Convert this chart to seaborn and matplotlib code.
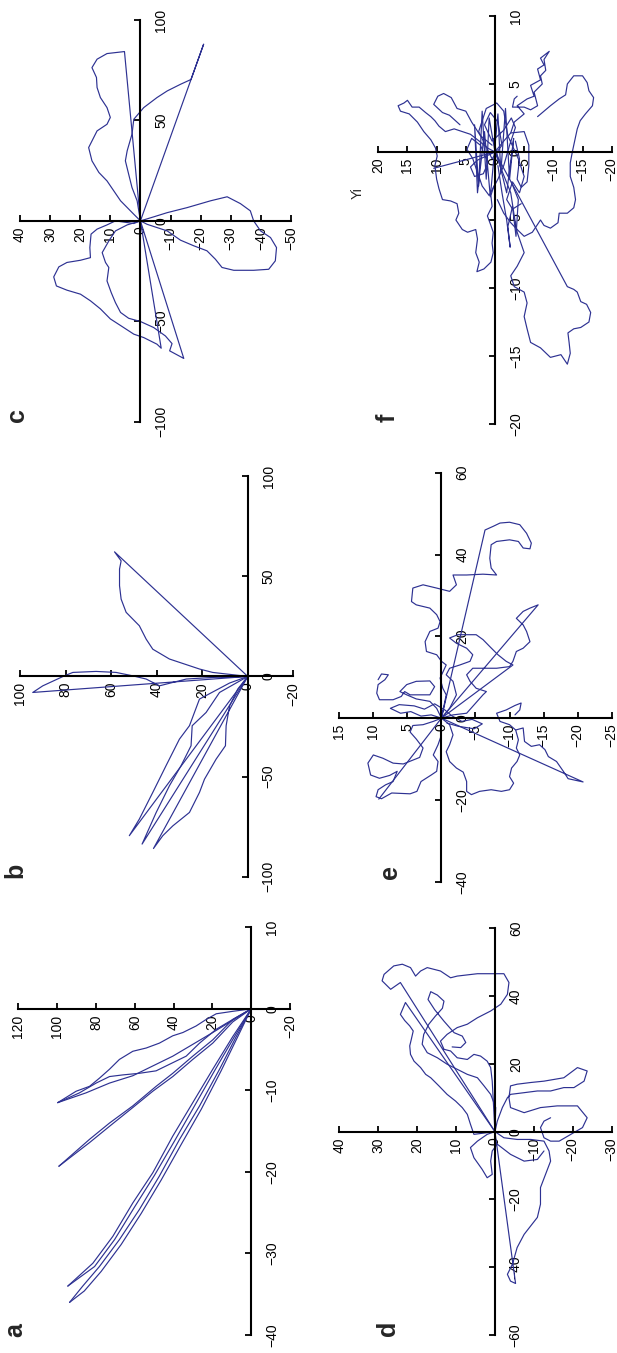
import matplotlib
matplotlib.use("Agg")
import matplotlib.pyplot as plt
import pandas as pd
import seaborn as sns

sns.set_style("white")
plt.rcParams['font.family'] = ['Liberation Sans', 'DejaVu Sans']
plt.rcParams['axes.unicode_minus'] = True

LINE = '#2D3192'

# Each trajectory is a list of (Y, X) points in the panel's data units.
# (The figure is printed rotated: Y runs right-to-left, X runs bottom-to-top.)
a_paths = [
    [(0,0),(9.5,-0.3),(18.0,-0.6),(23.2,-1.3),(28.4,-2.1),(35.2,-2.9),(40.4,-3.3),(47.3,-4.2),(54.1,-4.8),(61.0,-5.2),(67.9,-6.2),(73.0,-7.4),(78.2,-8.5),(83.3,-9.5),(90.2,-10.1),(99.7,-11.5)],
    [(0,0),(19.8,-2.9),(40.4,-5.8),(61.0,-8.2),(73.0,-9.1),(85.1,-10.3),(99.7,-11.5)],
    [(0,0),(9.5,-1.3),(18.0,-2.5),(26.6,-4.2),(33.5,-5.8),(40.4,-6.6),(49.0,-7.6),(57.6,-7.9),(66.2,-8.1),(73.0,-8.3),(79.9,-9.1),(88.5,-10.3),(99.7,-11.5)],
    [(0,0),(9.5,-1.3),(19.8,-3.8),(30.1,-5.8),(40.4,-7.9),(49.0,-9.5),(61.0,-11.9),(73.0,-14.0),(83.3,-16.0),(99.1,-19.3)],
    [(0,0),(9.5,-1.6),(19.8,-4.2),(30.1,-6.2),(40.4,-8.3),(50.7,-10.1),(61.0,-12.1),(73.0,-14.4),(83.3,-16.4),(99.1,-19.3)],
    [(0,0),(9.5,-3.4),(19.8,-7.4),(30.1,-11.5),(40.4,-15.6),(50.7,-20.1),(61.0,-23.8),(71.3,-27.9),(81.6,-31.2),(94.5,-34.0)],
    [(0,0),(8.6,-3.4),(18.9,-7.6),(29.2,-11.9),(39.5,-16.2),(49.8,-20.4),(60.1,-24.3),(70.4,-28.3),(80.7,-31.6),(94.5,-34.0)],
    [(0,0),(7.7,-3.4),(16.3,-7.4),(26.6,-11.9),(36.9,-16.0),(47.3,-20.5),(57.6,-24.6),(67.9,-28.3),(78.2,-31.6),(86.8,-34.0),(93.6,-36.0)],
    [(0,0),(6.9,-3.4),(15.5,-7.6),(25.7,-12.3),(36.0,-16.6),(46.4,-21.0),(56.7,-25.1),(67.0,-28.9),(77.3,-32.2),(86.0,-34.6),(93.6,-36.0)],
]

b_paths = [
    [(0,0),(15.4,2.0),(21.2,3.7),(34.4,8.7),(41.7,13.6),(44.6,18.6),(47.6,25.3),(53.4,32.0),(55.6,38.6),(56.3,45.3),(56.3,53.6),(55.6,57.7),(58.5,62.2),(0,0)],
    [(0,0),(15.4,-0.5),(27.0,-1.3),(38.8,-4.7),(44.6,-1.3),(50.5,0.3),(57.8,2.0),(66.6,2.5),(76.8,2.0),(80.5,0.3),(90.0,-4.7),(94.4,-8.0),(0,0)],
    [(0,0),(8.0,-3.3),(21.2,-11.3),(25.6,-24.6),(30.0,-31.3),(35.9,-44.6),(41.7,-57.9),(47.6,-71.2),(52.0,-79.5),(0,0)],
    [(0,0),(12.4,-8.0),(18.3,-18.0),(24.4,-24.6),(24.9,-34.6),(29.3,-44.6),(34.4,-54.6),(40.2,-67.9),(46.4,-83.7),(0,0)],
    [(0,0),(4.4,-6.3),(8.0,-14.8),(9.5,-24.6),(9.8,-34.6),(13.9,-41.3),(19.0,-51.3),(21.2,-57.9),(25.6,-67.9),(32.9,-74.6),(37.3,-79.5),(41.4,-85.9),(0,0)],
]

c_paths = [
    [(0,0),(2.2,3.3),(6.6,10.0),(11.1,19.9),(13.8,24.1),(16.1,29.9),(17.2,36.5),(14.4,44.8),(11.1,48.1),(10.0,51.5),(11.1,56.4),(13.3,61.4),(14.4,66.4),(14.6,71.4),(16.1,76.3),(14.4,80.5),(11.1,83.3),(5.3,84.3),(0,0)],
    [(0,0),(1.1,10.0),(2.8,16.6),(3.9,23.2),(5.0,29.9),(4.4,34.9),(2.8,43.2),(2.2,50.6),(-1.1,56.4),(-5.5,61.4),(-8.9,64.7),(-13.3,68.0),(-16.8,70.4),(-21.0,88.0),(0,0)],
    [(0,0),(-2.2,-1.7),(-8.9,-5.0),(-13.3,-9.6),(-17.7,-12.4),(-22.1,-14.9),(-24.9,-19.1),(-27.1,-23.2),(-31.0,-24.6),(-37.6,-24.6),(-42.6,-24.1),(-44.8,-19.9),(-45.2,-13.3),(-43.2,-8.3),(-39.9,-5.0),(-37.6,0.0),(-36.5,5.0),(-33.2,8.6),(-28.8,12.0),(-23.3,10.0),(-15.5,6.6),(-8.9,4.1),(-4.4,2.0),(0,0)],
    [(0,0),(2.2,-1.3),(8.3,0.0),(11.1,-2.0),(14.4,-4.1),(16.4,-6.6),(16.8,-13.3),(16.6,-18.3),(19.9,-19.6),(24.4,-20.7),(27.1,-22.9),(28.8,-27.9),(27.9,-32.4),(24.4,-34.5),(19.9,-36.5),(16.6,-39.8),(13.3,-43.8),(10.0,-48.8),(6.6,-52.1),(2.2,-56.4),(-1.1,-58.1),(-5.5,-61.4),(-6.9,-63.4),(0,0)],
    [(0,0),(4.4,-2.0),(8.3,-5.0),(10.5,-10.0),(12.7,-15.8),(11.6,-20.7),(10.5,-23.2),(11.1,-29.9),(9.7,-35.7),(8.3,-40.7),(6.6,-45.6),(3.9,-48.5),(0.0,-50.1),(-4.4,-53.1),(-8.3,-57.3),(-10.5,-61.1),(-9.7,-64.7),(-14.4,-68.5),(0,0)],
]

d_paths = [
    [(0,0),(5.4,-0.8),(6.3,2.2),(7.1,5.1),(8.4,7.1),(10.1,9.0),(12.3,11.0),(14.4,13.5),(16.5,15.9),(17.8,16.9),(19.1,18.9),(20.8,20.8),(21.7,22.8),(21.9,25.3),(21.5,27.2),(21.0,29.7),(21.9,31.2),(23.2,32.8),(24.3,34.6),(23.0,38.1),(0,0)],
    [(0,0),(0.7,14.9),(1.1,18.9),(2.0,20.8),(3.7,22.3),(5.4,22.8),(7.1,21.3),(9.7,21.8),(11.4,23.8),(13.1,24.3),(14.0,26.7),(12.3,28.7),(9.7,30.7),(7.1,31.7),(4.5,33.6),(1.1,35.6),(-1.5,37.6),(-3.2,40.5),(-3.6,44.0),(-2.3,46.6),(4.5,46.6),(9.7,45.9),(11.4,45.4),(14.0,47.4),(17.4,48.4),(19.1,47.4),(20.4,45.9),(21.7,48.4),(23.8,49.4),(26.0,48.9),(28.5,46.4),(29.0,44.5),(26.8,42.0),(24.3,44.0),(0,0)],
    [(0,0),(-0.2,7.1),(1.1,11.0),(2.8,13.5),(4.5,15.9),(7.1,16.9),(9.7,18.4),(12.3,19.9),(14.8,21.8),(17.4,23.3),(18.7,25.8),(18.3,28.7),(17.0,31.7),(15.3,34.1),(13.5,36.4),(13.1,38.5),(14.8,40.3),(16.5,41.3),(17.2,39.0),(15.5,36.0),(13.1,32.6),(10.5,29.2),(8.4,28.2),(7.5,26.3),(8.8,24.8),(11.0,25.0)],
    [(0,0),(-0.6,3.1),(-1.9,7.1),(-3.2,10.0),(-4.0,11.0),(-7.5,11.5),(-10.9,12.0),(-14.3,12.0),(-17.7,13.0),(-20.3,13.0),(-22.9,14.9),(-23.7,17.9),(-21.2,18.9),(-17.7,15.9),(-12.6,14.9),(-9.2,14.5),(-5.7,14.0),(-4.0,13.5),(-3.6,10.0),(-4.0,7.1),(-7.5,5.6),(-11.7,7.1),(-16.0,7.6),(-21.2,7.6),(-23.7,4.1),(-22.5,1.2),(-19.5,-0.8),(-16.5,-2.8),(-14.3,-2.8),(-12.6,-1.8),(-11.7,1.2),(-12.6,3.1),(-14.3,4.1)],
    [(0,0),(-2.3,-1.8),(-5.7,-2.3),(-9.2,-2.3),(-12.6,-2.8),(-13.9,-5.7),(-14.3,-8.7),(-13.0,-12.6),(-11.7,-16.5),(-11.7,-21.4),(-10.9,-25.3),(-9.2,-27.8),(-7.5,-30.3),(-5.7,-34.2),(-4.5,-39.1),(-3.2,-42.1),(-4.0,-44.1),(-5.3,-44.8),(0,0)],
    [(0,0),(2.0,-0.8),(4.5,-2.8),(6.3,-4.7),(5.4,-7.7),(3.3,-11.1),(2.0,-13.6),(0.7,-12.6),(1.1,-8.7),(0.7,-5.7),(-0.6,-3.7),(-4.0,-6.7),(-7.5,-8.7),(-10.9,-8.2),(-12.6,-5.7)],
]

e_paths = [
    [(0,0),(-0.7,5.7),(-0.2,7.3),(0.2,9.8),(-0.7,13.0),(0.0,13.9),(0.7,15.5),(2.2,16.3),(2.4,18.7),(1.7,21.2),(0.5,22.0),(0.2,23.6),(0.7,25.3),(1.7,26.9),(3.7,27.7),(4.4,28.5),(4.2,31.8),(2.7,32.6),(0.7,31.8),(-1.2,31.0),(-2.2,32.6),(-1.7,35.0),(-3.7,35.0),(-6.1,35.2),(-8.1,35.0),(-7.3,36.7),(-7.1,39.1),(-7.3,42.4),(-8.1,43.2),(-10.0,43.6),(-11.3,43.2),(-12.0,41.6),(-13.0,41.4),(-13.2,42.8),(-12.5,45.2),(-11.5,47.3),(-10.0,47.9),(-8.6,47.7),(-7.6,46.9),(-6.4,46.0),(0,0)],
    [(0,0),(-1.7,0.8),(-3.7,1.2),(-6.1,5.7),(-6.6,6.5),(-5.1,7.3),(-4.2,9.0),(-3.7,10.6),(-4.6,12.2),(-6.1,12.2),(-8.1,12.2),(-10.0,12.6),(-10.5,13.9),(-11.0,16.3),(-12.0,17.1),(-13.0,18.7),(-12.5,21.2),(-12.0,22.8),(-11.0,24.4),(-12.0,26.1),(-13.0,26.9),(-14.2,27.7),(0,0)],
    [(0,0),(-1.2,2.4),(-2.2,5.7),(-1.7,9.0),(-0.7,10.6),(-1.2,12.2),(-2.7,13.0),(-4.2,13.9),(-4.6,15.5),(-3.7,17.1),(-2.2,18.3),(-1.2,19.6),(-2.4,20.4),(-5.1,20.4),(-6.1,19.2),(-7.1,17.5),(-8.3,15.5),(-9.5,13.9),(-10.5,13.0),(0,0)],
    [(0,0),(0.7,2.4),(1.7,4.1),(3.7,4.7),(5.1,5.7),(6.1,6.5),(5.1,8.2),(3.7,9.0),(1.7,9.1),(1.0,7.7),(1.7,5.7),(4.6,5.7),(5.4,6.5),(5.9,5.3),(7.1,4.5),(9.1,4.5),(9.5,6.1),(9.3,8.2),(8.3,9.4),(7.8,10.6),(8.8,10.8),(9.3,9.4)],
    [(0,0),(1.2,-0.8),(2.7,-1.6),(4.2,-1.8),(4.6,-3.4),(3.7,-5.1),(2.7,-7.3),(3.2,-9.6),(4.4,-10.4),(5.6,-11.2),(7.1,-11.0),(8.6,-9.8),(10.0,-9.0),(10.8,-11.0),(10.4,-13.9),(9.1,-14.7),(7.6,-14.0),(6.5,-13.0),(7.1,-15.5),(8.2,-16.3),(9.3,-17.5),(9.6,-19.2),(8.8,-19.7),(7.3,-18.3),(4.6,-18.5),(3.6,-17.9),(3.0,-15.5),(1.5,-13.9),(0.7,-13.0),(0.5,-10.6),(1.2,-9.0),(0.5,-6.5),(0.0,-4.1)],
    [(0,0),(9.2,-19.8)],
    [(0,0),(-1.2,-1.6),(-1.7,-4.1),(-1.2,-6.5),(-0.7,-8.2),(-1.2,-10.6),(-2.2,-12.2),(-3.2,-13.2),(-3.7,-15.5),(-3.7,-17.9),(-4.4,-18.7),(-5.6,-17.9),(-7.3,-17.5),(-8.8,-17.9),(-10.0,-17.5),(-10.6,-15.9),(-10.0,-14.3),(-10.3,-12.2),(-11.1,-10.6),(-11.5,-9.0),(-11.0,-7.3),(-11.3,-5.3),(-10.9,-2.9),(-10.0,-1.6),(-8.6,-0.8),(-8.1,1.2),(-9.5,2.0),(-10.8,3.1),(-11.7,3.7),(-11.5,2.0),(-10.8,0.8)],
    [(-10.9,-2.9),(-12.0,-2.4),(-12.2,-5.7),(-13.2,-6.9),(-14.4,-6.5),(-15.2,-7.7),(-15.7,-9.4),(-16.9,-10.6),(-17.9,-13.0),(-18.6,-14.8),(-20.8,-15.6),(0,0)],
    [(0,0),(1.5,0.8),(3.0,0.5),(4.5,1.6),(6.0,1.2),(7.5,2.4),(6.2,3.3),(4.0,3.0),(2.5,2.2),(1.0,3.5),(-0.5,2.0),(-1.5,0.6),(-3.0,-0.8),(-4.5,-0.3),(-6.0,-1.4),(-4.8,-2.6),(-2.5,-2.0),(-0.8,-1.2)],
]

f_paths = [
    [(0,0),(-1.3,0.7),(-2.7,1.4),(-3.3,2.2),(-5.0,2.8),(-3.8,3.4),(-5.5,3.9),(-6.7,4.1),(-6.1,4.9),(-7.8,5.3),(-7.3,6.1),(-8.4,6.4),(-7.8,6.9),(-9.3,7.4),(-8.4,6.8),(-8.7,6.0),(-7.8,5.6),(-8.1,5.0),(-6.7,4.4),(-7.3,3.4),(-6.1,3.1),(-5.0,3.3),(-3.0,3.3),(-3.3,3.9),(-3.8,4.1)],
    [(-7.3,2.6),(-9.5,3.4),(-11.0,3.9),(-12.1,4.2),(-12.4,5.0),(-13.5,5.6),(-15.0,5.6),(-15.8,5.1),(-16.1,4.5),(-16.9,4.0),(-16.7,3.4),(-15.5,2.8),(-14.6,2.3),(-14.1,1.7),(-13.7,0.9),(-13.3,0.1),(-12.9,-0.8),(-12.9,-1.8),(-13.5,-2.6),(-13.8,-3.5),(-13.5,-4.1),(-12.4,-4.5),(-11.0,-4.5),(-10.8,-5.2),(-9.5,-5.6),(-8.4,-5.4),(-7.8,-5.0),(-6.4,-5.9),(-5.0,-6.2),(-3.8,-5.7),(-2.7,-5.2),(-1.5,-4.5),(-0.4,-3.5)],
    [(0,0),(-1.3,-1.5),(-2.7,-3.0),(-3.3,-4.7),(-3.8,-5.9),(-5.0,-7.4),(-3.8,-8.4),(-2.7,-9.1),(-3.3,-9.9),(-5.0,-10.3),(-5.5,-11.1),(-5.0,-12.1),(-5.5,-13.0),(-6.1,-14.0),(-7.8,-14.4),(-9.5,-15.1),(-11.3,-14.9),(-12.4,-15.6),(-12.9,-14.8),(-12.7,-14.0),(-12.5,-13.3),(-13.5,-13.0),(-14.7,-12.9),(-16.1,-12.5),(-16.4,-11.8),(-15.7,-11.2),(-14.7,-11.0),(-14.1,-10.3),(-13.5,-10.1),(-12.4,-9.9),(0,0)],
    [(0,0),(1.3,0.3),(2.7,0.8),(4.2,1.3),(5.6,1.5),(7.0,1.7),(8.5,1.5),(9.6,1.9),(10.3,2.3),(11.0,2.6),(11.9,2.9),(13.0,3.3),(14.2,3.3),(15.0,3.8),(15.6,3.6),(16.6,3.4),(16.2,3.0),(14.7,2.8),(13.3,2.2),(12.2,1.5),(11.0,0.9),(10.2,0.3),(9.9,-0.3),(10.3,-1.0),(10.0,-2.0),(9.6,-2.7),(9.0,-3.5),(7.6,-3.6),(6.5,-3.8),(6.2,-4.5),(6.7,-5.0),(5.6,-5.7),(4.7,-5.9),(3.3,-5.7),(3.0,-6.4),(3.3,-7.4),(2.7,-8.1),(3.1,-8.8),(1.9,-8.6),(0.7,-8.1),(0.3,-7.4),(0.5,-6.7),(0.3,-5.9),(0.7,-5.4),(1.3,-4.7),(0.5,-4.0),(0.7,-3.2),(0.2,-2.5)],
    [(0,0),(10.5,-1.2)],
    [(0,0),(1.5,-0.3),(3.0,-0.6),(4.2,-1.1),(3.5,-1.8),(2.0,-1.6),(1.2,-0.8),(2.5,0.5),(4.0,1.0),(4.8,0.2),(3.8,-0.5),(2.2,-2.5),(1.0,-3.2),(-0.5,-2.0),(-1.5,-1.0),(-2.5,0.5),(-3.5,1.8),(-2.8,2.5),(-1.5,1.6),(0.5,0.8),(1.8,2.0),(0.8,2.9),(-0.5,2.2),(-1.2,0.5),(0.5,-0.5),(2.8,1.5),(1.5,3.2),(-0.3,3.6),(-1.5,3.0),(-2.2,1.2),(-4.0,-0.5),(-5.0,-1.8),(-4.2,-3.0),(-3.0,-2.2),(-2.0,-3.5),(-3.0,-4.2),(-4.5,-3.8)],
    [(-2.7,1.4),(-5.0,1.5),(-5.8,0.5),(-5.8,-1.0),(-5.5,-2.2),(-4.5,-2.6),(-3.8,-2.0),(-4.2,-0.5),(-3.5,0.8)],
    [(0.5,0.5),(2.5,1.2),(4.0,2.2),(5.0,3.0),(6.5,3.2),(7.5,4.0),(8.8,4.3),(9.8,4.1),(10.5,3.5),(9.0,2.9),(7.8,2.7),(6.0,2.0)],
    [(0,0),(1.0,2.5),(1.5,-2.0),(2.2,3.0),(2.8,-2.5),(3.5,2.0),(3.0,-3.0),(1.8,1.5),(0.8,-3.3),(-0.5,2.8),(-1.0,-1.5),(-1.8,3.2),(-2.5,-2.0),(-3.2,1.0),(-2.0,-3.0),(0.3,1.0)],
    [(-0.5,-1.0),(-1.2,-3.0),(-2.0,-5.0),(-2.6,-7.0),(-2.2,-5.5),(-3.0,-4.0),(-3.6,-6.2),(-4.0,-3.5),(-2.8,-2.2)],
]

panel_letters = ['a', 'b', 'c', 'd', 'e', 'f']
y_ranges = [(120, -20), (100, -20), (40, -50), (40, -30), (15, -25), (20, -20)]
x_ranges = [(-40, 10), (-100, 100), (-100, 100), (-60, 60), (-40, 60), (-20, 10)]
y_ticks = [[120, 100, 80, 60, 40, 20, 0, -20],
           [100, 80, 60, 40, 20, 0, -20],
           [40, 30, 20, 10, 0, -10, -20, -30, -40, -50],
           [40, 30, 20, 10, 0, -10, -20, -30],
           [15, 10, 5, 0, -5, -10, -15, -20, -25],
           [20, 15, 10, 5, 0, -5, -10, -15, -20]]
x_ticks = [[-40, -30, -20, -10, 0, 10],
           [-100, -50, 0, 50, 100],
           [-100, -50, 0, 50, 100],
           [-60, -40, -20, 0, 20, 40, 60],
           [-40, -20, 0, 20, 40, 60],
           [-20, -15, -10, -5, 0, 5, 10]]
all_paths = [a_paths, b_paths, c_paths, d_paths, e_paths, f_paths]

# axes boxes (left, bottom, width, height) in figure fractions
boxes = [(0.0297, 0.0133, 0.4403, 0.3013),
         (0.0324, 0.3520, 0.4430, 0.2961),
         (0.0324, 0.6883, 0.4392, 0.2969),
         (0.5499, 0.0133, 0.4415, 0.3006),
         (0.5499, 0.3483, 0.4415, 0.3023),
         (0.6131, 0.6866, 0.3783, 0.3016)]
letter_pos = [(0.0243, 0.0170), (0.0243, 0.3570), (0.0271, 0.6933),
              (0.6290, 0.0185), (0.6320, 0.3555), (0.6290, 0.6910)]

fig = plt.figure(figsize=(6.17, 13.53), dpi=100)

for i, paths in enumerate(all_paths):
    ax = fig.add_axes(boxes[i])
    rows = []
    for t, path in enumerate(paths):
        for k, (yv, xv) in enumerate(path):
            rows.append({'traj': t, 'step': k, 'Y': yv, 'X': xv})
    df = pd.DataFrame(rows)
    sns.lineplot(data=df, x='Y', y='X', units='traj', estimator=None, sort=False,
                 color=LINE, linewidth=0.85, ax=ax)
    ax.set_xlabel('')
    ax.set_ylabel('')
    ax.set_xlim(*y_ranges[i])
    ax.set_ylim(*x_ranges[i])
    ax.set_xticks(y_ticks[i])
    ax.set_yticks(x_ticks[i])
    ax.spines['top'].set_visible(False)
    ax.spines['left'].set_visible(False)
    ax.spines['bottom'].set_position(('data', 0))
    ax.spines['right'].set_position(('data', 0))
    for s in ('bottom', 'right'):
        ax.spines[s].set_linewidth(1.5)
        ax.spines[s].set_color('black')
    ax.yaxis.tick_right()
    ax.xaxis.tick_bottom()
    ax.tick_params(axis='x', direction='in', length=4, width=1.3, pad=4,
                   labelsize=10, labelrotation=90, colors='black')
    ax.tick_params(axis='y', direction='in', length=4, width=1.3, pad=10,
                   labelsize=10, labelrotation=90, colors='black')
    for lab in ax.get_yticklabels():
        lab.set_verticalalignment('center')
        lab.set_horizontalalignment('left')
    ax.patch.set_alpha(0)
    fig.text(letter_pos[i][0], letter_pos[i][1], panel_letters[i], rotation=90,
             fontsize=18, fontweight='bold', ha='center', va='center')

fig.text(0.5803, 0.8571, 'Yi', rotation=90, fontsize=10, ha='center', va='center')

fig.savefig('out.png', dpi=100)
